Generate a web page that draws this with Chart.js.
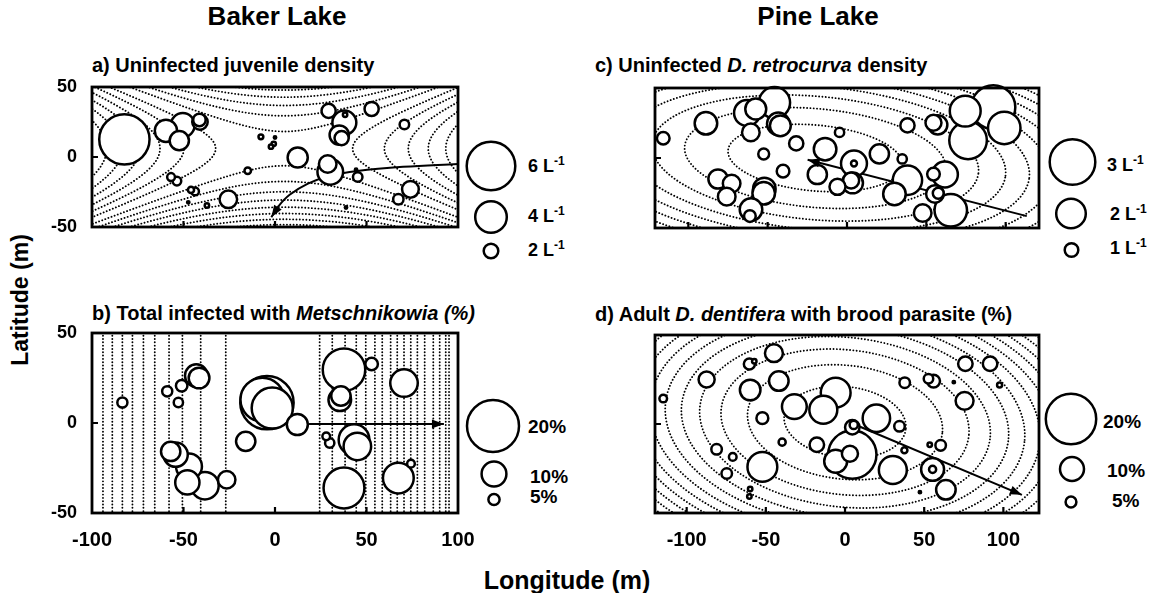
<!DOCTYPE html>
<html><head><meta charset="utf-8">
<script src="https://cdn.jsdelivr.net/npm/chart.js@4.4.1/dist/chart.umd.min.js"></script>
<style>
html,body{margin:0;padding:0;background:#fff}
body{width:1150px;height:593px;position:relative;overflow:hidden;font-family:"Liberation Sans",Arial,Helvetica,sans-serif;font-weight:bold;color:#000}
canvas{position:absolute;left:0;top:0}
.t{position:absolute;white-space:nowrap;line-height:1}
.t i{font-style:italic}
.t sup{font-size:12px;vertical-align:0;position:relative;top:-7px}
</style></head><body>
<div class="t" style="left:277px;top:3px;font-size:26px;transform:translateX(-50%)">Baker Lake</div>
<div class="t" style="left:818px;top:3px;font-size:26px;transform:translateX(-50%)">Pine Lake</div>
<div class="t" style="left:92px;top:55px;font-size:20px">a) Uninfected juvenile density</div>
<div class="t" style="left:92px;top:303px;font-size:20px">b) Total infected with <i>Metschnikowia (%)</i></div>
<div class="t" style="left:595px;top:55px;font-size:20px">c) Uninfected <i>D. retrocurva</i> density</div>
<div class="t" style="left:595px;top:304px;font-size:20px">d) Adult <i>D. dentifera</i> with brood parasite (%)</div>
<div class="t" style="left:20px;top:300px;font-size:23px;transform:translate(-50%,-50%) rotate(-90deg)">Latitude (m)</div>
<div class="t" style="left:567px;top:568px;font-size:25px;transform:translateX(-50%)">Longitude (m)</div>
<div class="t" style="left:528px;top:157px;font-size:18px">6 L<sup>-1</sup></div>
<div class="t" style="left:528px;top:207px;font-size:18px">4 L<sup>-1</sup></div>
<div class="t" style="left:528px;top:241px;font-size:18px">2 L<sup>-1</sup></div>
<div class="t" style="left:1107px;top:156px;font-size:18px">3 L<sup>-1</sup></div>
<div class="t" style="left:1110px;top:205px;font-size:18px">2 L<sup>-1</sup></div>
<div class="t" style="left:1110px;top:239px;font-size:18px">1 L<sup>-1</sup></div>
<div class="t" style="left:528px;top:417px;font-size:19px">20%</div>
<div class="t" style="left:530px;top:467px;font-size:19px">10%</div>
<div class="t" style="left:530px;top:487px;font-size:19px">5%</div>
<div class="t" style="left:1103px;top:412px;font-size:19px">20%</div>
<div class="t" style="left:1107px;top:461px;font-size:19px">10%</div>
<div class="t" style="left:1112px;top:491px;font-size:19px">5%</div>
<canvas id="ca" width="1150" height="593"></canvas>
<canvas id="cb" width="1150" height="593"></canvas>
<canvas id="cc" width="1150" height="593"></canvas>
<canvas id="cd" width="1150" height="593"></canvas>
<script>
// ---------- Data ----------
// a) Baker Lake, uninfected juvenile density (L^-1)
const aX=[-82.3,-59.6,-50.4,-52.3,-41.3,-41,-56.8,-53.6,-45.9,-43.7,-47.4,-37.2,-25.5,-14.9,-7.7,0,-0.7,-2.2,12.4,29.3,38.3,37.9,35.1,36.4,52.8,70.7,28.8,30.2,44.3,45.2,74,67.4,38.8];
const aY=[12.6,18.7,22.8,11.7,26.5,25,-14.3,-17.2,-23.5,-24.6,-32.4,-34.6,-30.2,-9.8,14.4,13.9,9.4,7.4,-0.4,32.9,30.2,24.6,15.7,13.5,34.3,23.2,-5,-10.6,-9.1,-14.3,-23.1,-30.2,-36.1];
const aV=[6.2,2.9,3.1,2.55,1.75,2.1,1.2,1.3,1.0,1.2,0.45,0.8,2.35,1.05,0.85,0.55,0.8,0.8,2.65,1.95,0.8,3.1,2.55,1.95,1.95,1.4,2.35,3.3,0.55,1.4,2.25,1.5,0.45];
// b) Baker Lake, total infected with Metschnikowia (%)
const bX=[-83.4,-58.9,-51,-52.8,-43,-41.5,-16,-57,-54.3,-47,-47.9,-38.3,-26.4,-4.4,-6.9,-1.5,12.2,37.7,52.8,35.4,36,70.5,28,29.9,43.2,45,37.7,67.4,74.3];
const bY=[11.4,17.6,20.7,11.4,26.3,25,-10.2,-15.8,-17.6,-24.1,-33,-34.8,-31.5,11.3,13,8.3,-0.9,29.6,32.8,12.9,15,22.2,-7.4,-11.1,-9.3,-13,-36.1,-30.6,-22.6];
const bV=[4.6,4.6,5.1,4.3,9.2,8.5,8,8,9.8,10.4,9.8,11,7.3,20.5,17,16,8.6,16.5,5.5,9.2,8,11,3.7,4.3,12.2,11,15.9,12.2,3.7];
// c) Pine Lake, uninfected D. retrocurva density (L^-1)
const cX=[-115.8,-88.9,-63,-57.5,-45.7,-43.3,-42,-60.6,-32,-52.5,-4.7,-13.8,-40.3,-18.7,-81.3,-72.7,-75.8,-52.1,-52.5,-60.5,-61.2,4.4,4.4,2.6,3.5,-6,20.4,34.8,38.1,54.5,57.2,74.5,92.2,99.1,76.3,38.1,29.9,61.7,54.5,55.4,57.5,65.4,47.7];
const cY=[14.1,24.8,32.2,35,39.6,24.4,23,18.3,10.4,2.9,18.3,6.3,-9.4,-11.8,-15,-18.3,-27.6,-22.1,-25.2,-36.8,-41.5,-3.9,-3.9,-16,-17.8,-20.6,2.9,-0.7,23.3,25.2,23.7,33.5,36.3,21.5,12.6,-15.9,-25.7,-11.8,-11.5,-25.7,-25.2,-37.4,-39.3];
const cV=[0.94,1.56,1.77,1.46,2.1,1.56,1.45,1.25,1.04,0.83,0.73,1.56,0.94,1.35,1.35,1.25,1.25,1.56,1.56,1.56,0.88,1.77,0.52,1.15,1.45,1.15,1.35,0.73,1.04,1.15,1.35,2.08,2.9,2.18,2.5,1.98,1.56,1.77,0.94,1.25,0.83,2.18,1.25];
// d) Pine Lake, adult D. dentifera with brood parasite (%)
const dX=[-114.8,-87.4,-60.4,-57.3,-44.9,-59.9,-41.8,-32,-52.2,-39.7,-81.1,-70.9,-74.7,-52.2,-59.9,-60.4,-5.9,-13.7,-17.8,4.6,3.1,-5.9,4.6,5.5,19.8,34.4,37.7,52.7,55.9,68.7,76,91.6,97.6,75.5,37.5,53.5,60.4,30.2,55.3,55.3,63.7,47.3];
const dY=[14.3,25,33.7,35.2,39.8,19.1,24.1,9.8,3.3,-10.2,-14.2,-18.5,-27.8,-24.1,-36.5,-40.7,17.6,8,-11.7,-17.2,-16.7,-20.9,-1.8,-0.5,3.2,-1.3,23.2,25.4,24.1,23.5,33.9,33.9,21.9,13,-14.8,-11.7,-12,-25.9,-25.5,-25.5,-37,-38.3];
const dV=[3.8,7,5.1,2.6,7.7,8.7,8.3,10.3,5.4,3.6,4.9,3.8,4.9,12.2,2.6,2.6,12.2,11.5,6.4,19.2,7,9.6,6.4,4,11.3,4.9,4.9,4.5,5.8,1.8,6.4,6.4,2.8,7.7,3.2,2.6,4.9,11.5,9.6,3.6,8.3,1.8];

// Size legends
const aLegendValues=[6,4,2];
const bLegendValues=[20,10,5];
const cLegendValues=[3,2,1];
const dLegendValues=[20,10,5];

// Tick labels
const lonTicks=[-100,-50,0,50,100];
const latTicks=[-50,0,50];

// Trend-surface contours
const aSaddle={x0:5,y0:6,ky:4};
const aContourLevels=[-13400,-11800,-10200,-8600,-7000,-5400,-3800,-2200,-600,1400,3000,4600,6200,7800,9400,11000,12600];
const bContourX=[-94,-88.9,-83.4,-77.9,-71.9,-65.7,-57.9,-50.6,-40.6,-26.9,24.4,31.3,38.3,44.4,49.6,54.6,58.6,63.2,66.8,70.5,74.2,77.8,81.8,86.5,90,93.3,95.1];
const cEllipse={x0:-20,y0:0,rot:-6,ratio:2.35};
const cEllipseMinor=[23.5,35.2,44,51.3,57.7,63.5,68.8,73.7,78.3,82.7,86.9,90.9,94.7];
const dEllipse={x0:0,y0:1,rot:-5,ratio:1.93};
const dEllipseMinor=[20,32,40.7,47.7,53.7,59,64,68.5,72.8,76.8,80.6,84.2,87.7];

// Gradient arrows
const aArrowX=[100,70,45,30,18,8,2,-2];
const aArrowY=[-5,-7,-10,-13.5,-19,-27,-35,-43];
const bArrowX=[18.6,92.3];
const bArrowY=[-0.6,-0.6];
const cArrowX=[113.3,-24.8];
const cArrowY=[-41.5,-1.3];
const dArrowX=[8,111.7];
const dArrowY=[-1,-39.8];

// ---------- Helpers ----------
function saddlePaths(s,levels){
  const out=[];
  for(const k of levels){
    for(const sg of [-1,1]){
      const pts=[];
      if(k>0){for(let yy=-60;yy<=60;yy+=1)pts.push([s.x0+sg*Math.sqrt(k+s.ky*(yy-s.y0)**2),yy]);}
      else{for(let xx=-130;xx<=130;xx+=1)pts.push([xx,s.y0+sg*Math.sqrt((-k+(xx-s.x0)**2)/s.ky)]);}
      out.push(pts);
    }
  }
  return out;
}
function ellipsePaths(e,minors){
  const out=[];const th=e.rot*Math.PI/180,c=Math.cos(th),s=Math.sin(th);
  for(const b of minors){const a=b*e.ratio;const pts=[];
    for(let i=0;i<=360;i++){const t=i/360*2*Math.PI;const u=a*Math.cos(t),v=b*Math.sin(t);pts.push([e.x0+u*c-v*s,e.y0+u*s+v*c]);}
    out.push(pts);}
  return out;
}
function verticalPaths(xs){return xs.map(v=>[[v,-60],[v,60]]);}

const decor={
  id:'decor',
  beforeDatasetsDraw(chart,args,o){
    const {ctx,chartArea:ca,scales:{x,y}}=chart;
    ctx.save();
    ctx.beginPath();ctx.rect(ca.left,ca.top,ca.right-ca.left,ca.bottom-ca.top);ctx.clip();
    ctx.strokeStyle='#000';ctx.lineWidth=1.9;ctx.lineCap='round';ctx.setLineDash([0.01,3.3]);
    for(const path of o.paths){
      ctx.beginPath();
      path.forEach((p,i)=>{const X=x.getPixelForValue(p[0]),Y=y.getPixelForValue(p[1]);if(i===0)ctx.moveTo(X,Y);else ctx.lineTo(X,Y);});
      ctx.stroke();
    }
    ctx.restore();
  },
  afterDatasetsDraw(chart,args,o){
    const {ctx,chartArea:ca,scales:{x,y}}=chart;
    ctx.save();
    ctx.setLineDash([]);ctx.strokeStyle='#000';ctx.fillStyle='#000';
    // arrowhead
    const meta=chart.getDatasetMeta(1);
    if(meta&&meta.data.length>1){
      const pts=meta.data;const last=pts[pts.length-1];
      let fx=pts[pts.length-2].x,fy=pts[pts.length-2].y;
      if(last.cp1x!==undefined&&Math.hypot(last.cp1x-last.x,last.cp1y-last.y)>1){fx=last.cp1x;fy=last.cp1y;}
      const ang=Math.atan2(last.y-fy,last.x-fx);const L=12,W=4.5;
      ctx.beginPath();
      ctx.moveTo(last.x,last.y);
      ctx.lineTo(last.x-L*Math.cos(ang)+W*Math.sin(ang),last.y-L*Math.sin(ang)-W*Math.cos(ang));
      ctx.lineTo(last.x-L*Math.cos(ang)-W*Math.sin(ang),last.y-L*Math.sin(ang)+W*Math.cos(ang));
      ctx.closePath();ctx.fill();
    }
    // frame
    ctx.lineWidth=2.8;ctx.lineCap='butt';
    ctx.strokeRect(ca.left,ca.top,ca.right-ca.left,ca.bottom-ca.top);
    // inward ticks
    ctx.lineWidth=2.2;ctx.beginPath();
    for(const v of o.xTicks){const X=x.getPixelForValue(v);if(X>ca.left+2&&X<ca.right-2){ctx.moveTo(X,ca.bottom);ctx.lineTo(X,ca.bottom-6);}}
    for(const v of o.yTicks){const Y=y.getPixelForValue(v);if(Y>ca.top+2&&Y<ca.bottom-2){ctx.moveTo(ca.left,Y);ctx.lineTo(ca.left+6,Y);}}
    ctx.stroke();
    // size legend
    const lg=o.legend;
    ctx.lineWidth=2.5;ctx.fillStyle='#fff';
    lg.values.forEach((v,i)=>{
      const r=Math.max(1.2,o.k*v-1.2);
      ctx.beginPath();ctx.arc(lg.cx[i],lg.cy[i],r,0,Math.PI*2);ctx.fill();ctx.stroke();
    });
    ctx.restore();
  }
};

function makePanel(id,p){
  const pts=p.xs.map((v,i)=>({x:v,y:p.ys[i],r:Math.max(1.2,p.k*p.vs[i]-1.2)})).sort((a,b)=>b.r-a.r);
  const datasets=[
    {type:'bubble',data:pts,backgroundColor:'#fff',borderColor:'#000',borderWidth:2.5,clip:false,order:1},
    {type:'line',data:p.ax.map((v,i)=>({x:v,y:p.ay[i]})),borderColor:'#000',borderWidth:2,pointRadius:0,tension:p.tension,fill:false,clip:false,order:2}
  ];
  const font={family:'"Liberation Sans", Arial, sans-serif',weight:'bold'};
  return new Chart(document.getElementById(id),{
    type:'bubble',
    data:{datasets},
    options:{
      responsive:false,animation:false,events:[],
      layout:{padding:p.pad},
      plugins:{legend:{display:false},tooltip:{enabled:false},
        decor:{paths:p.paths,xTicks:lonTicks,yTicks:latTicks,k:p.k,legend:p.legend}},
      scales:{
        x:{type:'linear',min:p.xmin,max:p.xmax,display:p.showX,
          grid:{display:false,drawTicks:false},border:{display:false},
          ticks:{padding:15,color:'#000',font:Object.assign({size:20},font),maxRotation:0,autoSkip:false},
          afterBuildTicks:s=>{s.ticks=lonTicks.map(v=>({value:v}));},
          afterFit:s=>{s.height=40;}},
        y:{type:'linear',min:-50,max:50,display:p.showY,
          grid:{display:false,drawTicks:false},border:{display:false},
          ticks:{padding:15,color:'#000',font:Object.assign({size:18},font)},
          afterBuildTicks:s=>{s.ticks=latTicks.map(v=>({value:v}));},
          afterFit:s=>{s.width=60;}}
      }
    },
    plugins:[decor]
  });
}

makePanel('ca',{xs:aX,ys:aY,vs:aV,k:4.25,xmin:-100,xmax:100,showX:false,showY:true,
  pad:{left:32,top:87,right:692,bottom:326},paths:saddlePaths(aSaddle,aContourLevels),
  ax:aArrowX,ay:aArrowY,tension:0.4,legend:{values:aLegendValues,cx:[491,491,491],cy:[166,217,251]}});
makePanel('cb',{xs:bX,ys:bY,vs:bV,k:1.36,xmin:-100,xmax:100,showX:true,showY:true,
  pad:{left:32,top:333,right:692,bottom:40},paths:verticalPaths(bContourX),
  ax:bArrowX,ay:bArrowY,tension:0,legend:{values:bLegendValues,cx:[493,494,494],cy:[426,474,499.5]}});
makePanel('cc',{xs:cX,ys:cY,vs:cV,k:8,xmin:-121,xmax:121,showX:false,showY:false,
  pad:{left:595,top:88,right:111,bottom:325},paths:ellipsePaths(cEllipse,cEllipseMinor),
  ax:cArrowX,ay:cArrowY,tension:0,legend:{values:cLegendValues,cx:[1072.5,1071,1071.5],cy:[162,213.5,250]}});
makePanel('cd',{xs:dX,ys:dY,vs:dV,k:1.32,xmin:-120,xmax:122.5,showX:true,showY:false,
  pad:{left:595,top:335,right:111,bottom:40},paths:ellipsePaths(dEllipse,dEllipseMinor),
  ax:dArrowX,ay:dArrowY,tension:0,legend:{values:dLegendValues,cx:[1071,1072,1071],cy:[419,469,502]}});
</script>
</body></html>
